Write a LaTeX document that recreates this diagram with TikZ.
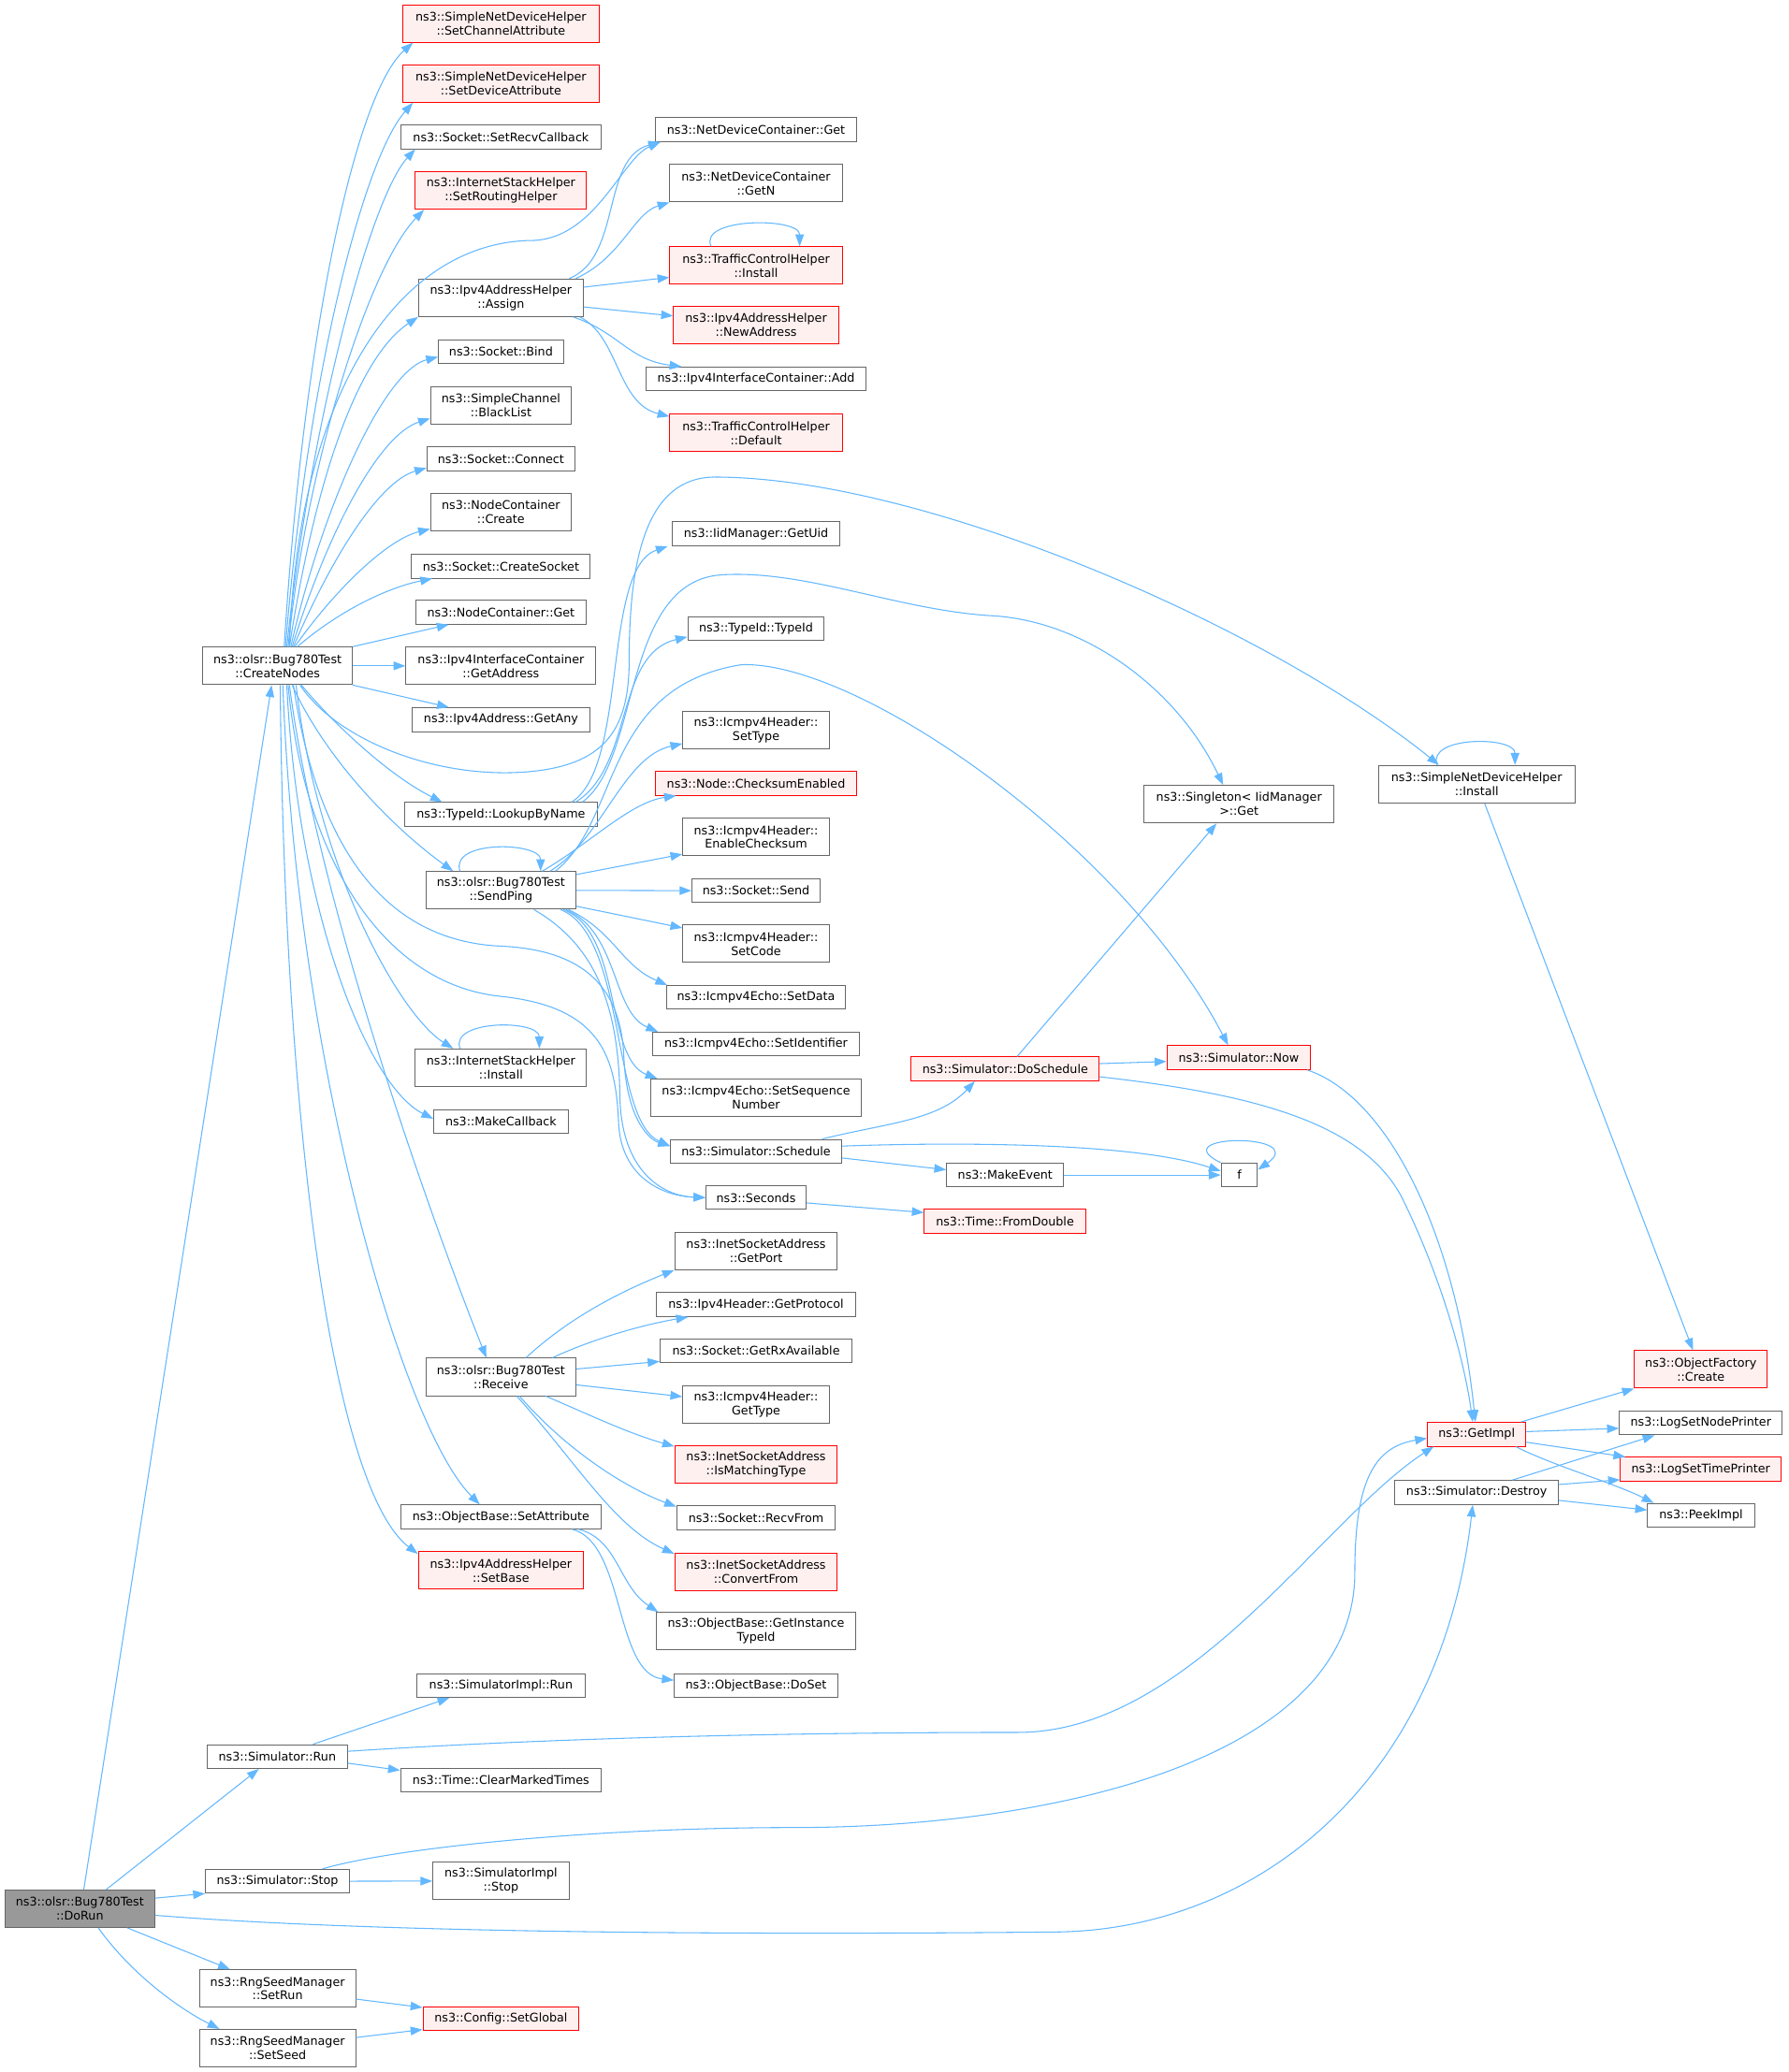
\documentclass[tikz,border=0pt]{standalone}
\usepackage{fontspec}
\setmainfont{DejaVu Sans}
\usepackage{xcolor}
\definecolor{edgeblue}{RGB}{99,184,255}
\definecolor{fnborder}{RGB}{102,102,102}
\definecolor{truncred}{RGB}{255,0,0}
\definecolor{truncfill}{RGB}{255,240,240}
\definecolor{rootgray}{RGB}{153,153,153}
\usepackage{tikz}
\usetikzlibrary{arrows.meta}
\newcommand{\callfont}{\fontsize{9pt}{10.6pt}\selectfont}

\begin{document}
\begin{tikzpicture}[x=1pt, y=-1pt,
  fn/.style={draw=fnborder, line width=0.7pt, fill=white, font=\callfont,
    align=center, inner sep=0pt, minimum height=18pt},
  fn2/.style={fn, minimum height=28.4pt},
  trunc/.style={draw=truncred, fill=truncfill},
  call/.style={-{Triangle[length=9pt,width=6.5pt]}, draw=edgeblue, line width=0.75pt}]

\path[use as bounding box, fill=white] (0,0) rectangle (1353,1568);

% === Left: test entry and its direct callees ===
\node[fn2, fill=rootgray, minimum width=113.2pt] (dorun) at (60.4,1444.4) {ns3::olsr::Bug780Test\\::DoRun};
\node[fn2, minimum width=113.2pt] (createnodes) at (210,503.9) {ns3::olsr::Bug780Test\\::CreateNodes};
\node[fn, minimum width=106pt] (simrun) at (209.8,1329.3) {ns3::Simulator::Run};
\node[fn, minimum width=108.8pt] (simstop) at (209.9,1423.6) {ns3::Simulator::Stop};
\node[fn2, minimum width=118pt] (setrun) at (210,1504.8) {ns3::RngSeedManager\\::SetRun};
\node[fn2, minimum width=118pt] (setseed) at (210,1549.9) {ns3::RngSeedManager\\::SetSeed};

% === Column 3 ===
\node[fn2, trunc, minimum width=148.6pt] (setchan) at (379,17.8) {ns3::SimpleNetDeviceHelper\\::SetChannelAttribute};
\node[fn2, trunc, minimum width=148.6pt] (setdev) at (379,63.2) {ns3::SimpleNetDeviceHelper\\::SetDeviceAttribute};
\node[fn, minimum width=151pt] (setrecv) at (379,103.6) {ns3::Socket::SetRecvCallback};
\node[fn2, trunc, minimum width=129.6pt] (setrouting) at (379,144.2) {ns3::InternetStackHelper\\::SetRoutingHelper};
\node[fn2, minimum width=124.6pt] (assign) at (379,225.3) {ns3::Ipv4AddressHelper\\::Assign};
\node[fn, minimum width=94.5pt] (bind) at (379,266.1) {ns3::Socket::Bind};
\node[fn2, minimum width=106.5pt] (blacklist) at (379,306.7) {ns3::SimpleChannel\\::BlackList};
\node[fn, minimum width=112pt] (connect) at (379,347.1) {ns3::Socket::Connect};
\node[fn2, minimum width=106.5pt] (nccreate) at (379,387.7) {ns3::NodeContainer\\::Create};
\node[fn, minimum width=135.3pt] (createsocket) at (379,428.5) {ns3::Socket::CreateSocket};
\node[fn, minimum width=128.4pt] (ncget) at (379,463.3) {ns3::NodeContainer::Get};
\node[fn2, minimum width=143.8pt] (getaddress) at (379,503.9) {ns3::Ipv4InterfaceContainer\\::GetAddress};
\node[fn, minimum width=134pt] (getany) at (379,544.6) {ns3::Ipv4Address::GetAny};
\node[fn, minimum width=146.3pt] (lookup) at (379,616.3) {ns3::TypeId::LookupByName};
\node[fn2, minimum width=113.6pt] (sendping) at (379,673.8) {ns3::olsr::Bug780Test\\::SendPing};
\node[fn2, minimum width=129.5pt] (ishinstall) at (379,808) {ns3::InternetStackHelper\\::Install};
\node[fn, minimum width=101.8pt] (makecallback) at (379,848.6) {ns3::MakeCallback};
\node[fn2, minimum width=113.5pt] (receive) at (379,1042) {ns3::olsr::Bug780Test\\::Receive};
\node[fn, minimum width=151pt] (setattr) at (379,1147.9) {ns3::ObjectBase::SetAttribute};
\node[fn2, trunc, minimum width=125pt] (setbase) at (379,1188.5) {ns3::Ipv4AddressHelper\\::SetBase};
\node[fn, minimum width=127pt] (simimplrun) at (379,1275.5) {ns3::SimulatorImpl::Run};
\node[fn, minimum width=152pt] (clearmarked) at (379,1347) {ns3::Time::ClearMarkedTimes};
\node[fn2, minimum width=103pt] (simimplstop) at (379,1423.5) {ns3::SimulatorImpl\\::Stop};
\node[fn, trunc, minimum width=118pt] (setglobal) at (379,1527.5) {ns3::Config::SetGlobal};

% === Column 4 ===
\node[fn, minimum width=152pt] (ndcget) at (572,98.1) {ns3::NetDeviceContainer::Get};
\node[fn2, minimum width=130.4pt] (ndcgetn) at (572,138.7) {ns3::NetDeviceContainer\\::GetN};
\node[fn2, trunc, minimum width=130.4pt] (tcinstall) at (572,200.9) {ns3::TrafficControlHelper\\::Install};
\node[fn2, trunc, minimum width=124.8pt] (newaddress) at (572,246.1) {ns3::Ipv4AddressHelper\\::NewAddress};
\node[fn, minimum width=166pt] (ifcadd) at (572,286.8) {ns3::Ipv4InterfaceContainer::Add};
\node[fn2, trunc, minimum width=130.4pt] (tcdefault) at (572,327.7) {ns3::TrafficControlHelper\\::Default};
\node[fn, minimum width=127pt] (getuid) at (572,404) {ns3::IidManager::GetUid};
\node[fn, minimum width=103.2pt] (typeid) at (572,475.6) {ns3::TypeId::TypeId};
\node[fn2, minimum width=110.8pt] (settype) at (572,552.2) {ns3::Icmpv4Header::\\SetType};
\node[fn, trunc, minimum width=152.2pt] (checksum) at (572,592.8) {ns3::Node::ChecksumEnabled};
\node[fn2, minimum width=110.8pt] (enablechk) at (572,633.4) {ns3::Icmpv4Header::\\EnableChecksum};
\node[fn, minimum width=97pt] (send) at (572,674) {ns3::Socket::Send};
\node[fn2, minimum width=110.8pt] (setcode) at (572,714.2) {ns3::Icmpv4Header::\\SetCode};
\node[fn, minimum width=135.7pt] (setdata) at (572,754.8) {ns3::Icmpv4Echo::SetData};
\node[fn, minimum width=155.8pt] (setident) at (572,790.1) {ns3::Icmpv4Echo::SetIdentifier};
\node[fn2, minimum width=158.8pt] (setseq) at (572,830.7) {ns3::Icmpv4Echo::SetSequence\\Number};
\node[fn, minimum width=129.4pt] (schedule) at (572,871.3) {ns3::Simulator::Schedule};
\node[fn, minimum width=75.8pt] (seconds) at (572,906.3) {ns3::Seconds};
\node[fn2, minimum width=123.1pt] (getport) at (572,946.6) {ns3::InetSocketAddress\\::GetPort};
\node[fn, minimum width=150.2pt] (getproto) at (572,987.3) {ns3::Ipv4Header::GetProtocol};
\node[fn, minimum width=145.2pt] (getrx) at (572,1022.3) {ns3::Socket::GetRxAvailable};
\node[fn2, minimum width=110.8pt] (gettype) at (572,1062.9) {ns3::Icmpv4Header::\\GetType};
\node[fn2, trunc, minimum width=123.1pt] (ismatching) at (572,1108.1) {ns3::InetSocketAddress\\::IsMatchingType};
\node[fn, minimum width=120pt] (recvfrom) at (572,1148.5) {ns3::Socket::RecvFrom};
\node[fn2, trunc, minimum width=123.1pt] (convertfrom) at (572,1189.3) {ns3::InetSocketAddress\\::ConvertFrom};
\node[fn2, minimum width=151.4pt] (getinstance) at (572,1234.5) {ns3::ObjectBase::GetInstance\\TypeId};
\node[fn, minimum width=123.6pt] (doset) at (572,1275.5) {ns3::ObjectBase::DoSet};

% === Right columns ===
\node[fn, trunc, minimum width=142.5pt] (doschedule) at (760.5,808.9) {ns3::Simulator::DoSchedule};
\node[fn, minimum width=88.5pt] (makeevent) at (760.5,889.2) {ns3::MakeEvent};
\node[fn, trunc, minimum width=122pt] (fromdouble) at (760.3,924.2) {ns3::Time::FromDouble};
\node[fn2, minimum width=143.8pt] (singleton) at (937.4,608.6) {ns3::Singleton< IidManager\\>::Get};
\node[fn, trunc, minimum width=108.7pt] (now) at (937.2,800.3) {ns3::Simulator::Now};
\node[fn, minimum width=27.4pt] (f) at (937.6,889.2) {f};
\node[fn2, minimum width=148.4pt] (sndhinstall) at (1117.2,593.4) {ns3::SimpleNetDeviceHelper\\::Install};
\node[fn, trunc, minimum width=74.4pt] (getimpl) at (1117.2,1085.4) {ns3::GetImpl};
\node[fn, minimum width=123.6pt] (destroy) at (1117.2,1129.4) {ns3::Simulator::Destroy};
\node[fn2, trunc, minimum width=100.4pt] (ofcreate) at (1286.8,1036.3) {ns3::ObjectFactory\\::Create};
\node[fn, minimum width=123.2pt] (lognode) at (1286.8,1076.9) {ns3::LogSetNodePrinter};
\node[fn, trunc, minimum width=121.5pt] (logtime) at (1286.8,1111.8) {ns3::LogSetTimePrinter};
\node[fn, minimum width=81pt] (peekimpl) at (1287,1146.7) {ns3::PeekImpl};

% === Calls from DoRun ===
\draw[call] ([xshift=3pt]dorun.north) -- ([xshift=-4.5pt]createnodes.south);
\draw[call] ([xshift=20pt]dorun.north) -- ([xshift=-14pt]simrun.south);
\draw[call] ([yshift=8pt]dorun.east) -- (simstop.south west);
\draw[call] ([xshift=36pt]dorun.south) -- ([xshift=-36pt]setrun.north);
\draw[call] ([xshift=14pt]dorun.south) .. controls +(25,35) and +(-30,-15) .. ([xshift=-44pt]setseed.north);
\draw[call] ([yshift=-5pt]dorun.east) .. controls (300,1464) and (600,1464) .. (800,1462)
  .. controls (950,1460) and (1090,1350) .. ([xshift=-3pt]destroy.south);

% === Calls from CreateNodes ===
\draw[call] ([xshift=5pt]createnodes.north) .. controls +(15,-240) and +(-43,38) .. ([xshift=8pt]setchan.south west);
\draw[call] ([xshift=6pt]createnodes.north) .. controls +(16,-200) and +(-38,43) .. ([xshift=8pt]setdev.south west);
\draw[call] ([xshift=7pt]createnodes.north) .. controls +(18,-170) and +(-34,37) .. ([xshift=11pt]setrecv.south west);
\draw[call] ([xshift=8pt]createnodes.north) .. controls +(14,-140) and +(-41,42) .. ([xshift=7pt]setrouting.south west);
\draw[call] ([xshift=9pt]createnodes.north) .. controls (225,300) and (300,185) .. (400,182)
  .. controls (450,183) and (470,120) .. ([xshift=4pt]ndcget.south west);
\draw[call] ([xshift=9pt]createnodes.north) .. controls +(20,-130) and +(-45,30) .. (assign.south west);
\draw[call] ([xshift=10pt]createnodes.north) .. controls +(25,-110) and +(-40,10) .. ([yshift=-4pt]bind.west);
\draw[call] ([xshift=11pt]createnodes.north) .. controls +(28,-90) and +(-38,12) .. ([yshift=-10pt]blacklist.west);
\draw[call] ([xshift=12pt]createnodes.north) .. controls +(30,-70) and +(-35,10) .. ([yshift=-7pt]connect.west);
\draw[call] ([xshift=13pt]createnodes.north) .. controls +(32,-45) and +(-32,8) .. ([yshift=2pt]nccreate.south west);
\draw[call] ([xshift=15pt]createnodes.north) .. controls +(35,-30) and +(-30,6) .. ([xshift=16pt]createsocket.south west);
\draw[call] (createnodes.north east) -- ([xshift=25pt]ncget.south west);
\draw[call] (createnodes.east) -- (getaddress.west);
\draw[call] (createnodes.south east) -- ([xshift=28pt]getany.north west);
\draw[call] ([xshift=18pt]createnodes.south) .. controls +(25,30) and +(-40,-20) .. ([xshift=29pt]lookup.north west);
\draw[call] ([xshift=11pt]createnodes.south) .. controls +(30,65) and +(-35,-25) .. ([xshift=21pt]sendping.north west);
\draw[call] ([xshift=17pt]createnodes.south) .. controls (255,560) and (330,590) .. (400,584)
  .. controls (455,579) and (476,555) .. (476,500)
  .. controls (476,420) and (490,362) .. (540,361)
  .. controls (700,361) and (960,475) .. ([xshift=46pt]sndhinstall.north west);
\draw[call] ([xshift=14pt]createnodes.south) .. controls +(16,140) and +(-40,-25) .. ([xshift=29pt]ishinstall.north west);
\draw[call] ([xshift=7pt]createnodes.south) .. controls +(8,170) and +(-50,-25) .. ([yshift=2pt]makecallback.west);
\draw[call] ([xshift=9pt]createnodes.south) .. controls +(20,160) and +(-40,-100) .. ([xshift=-11pt]receive.north);
\draw[call] ([xshift=4pt]createnodes.south) .. controls +(10,280) and +(-60,-60) .. ([xshift=-16pt]setattr.north);
\draw[call] ([xshift=2pt]createnodes.south) .. controls +(3,330) and +(-65,-50) .. ([yshift=-2pt]setbase.north west);
\draw[call] ([xshift=12pt]createnodes.south) .. controls (240,640) and (290,712) .. (379,716)
  .. controls (445,719) and (470,750) .. (472,800)
  .. controls (474,845) and (490,862) .. ([yshift=4pt]schedule.west);
\draw[call] ([xshift=8pt]createnodes.south) .. controls (230,650) and (290,745) .. (379,754)
  .. controls (455,762) and (466,800) .. (468,850)
  .. controls (470,890) and (500,905) .. (seconds.west);

% === Calls from Assign ===
\draw[call] ([xshift=-11pt]assign.north east) .. controls +(40,-16) and +(-45,12) .. ([xshift=4pt]ndcget.south west);
\draw[call] ([xshift=-6pt]assign.north east) .. controls +(35,-16) and +(-27,8) .. (ndcgetn.south west);
\draw[call] ([yshift=8pt]assign.east) -- ([yshift=-9pt]tcinstall.west);
\draw[call] ([yshift=-7pt]assign.east) -- ([yshift=7pt]newaddress.west);
\draw[call] ([xshift=-8pt]assign.south east) .. controls +(35,12) and +(-40,-5) .. ([xshift=27pt]ifcadd.north west);
\draw[call] ([xshift=-3pt]assign.south east) .. controls +(30,15) and +(-40,-10) .. ([yshift=-2pt]tcdefault.north west);
\draw[call] ([xshift=-34pt]tcinstall.north) .. controls +(-10,-22) and +(0,-22) .. ([xshift=33pt]tcinstall.north);

% === Calls from LookupByName ===
\draw[call] ([xshift=-20pt]lookup.north east) .. controls +(43,-27) and +(-50,17) .. ([xshift=-3pt]getuid.south west);
\draw[call] ([xshift=-17pt]lookup.north east) .. controls +(44,-27) and +(-55,13) .. ([yshift=3pt]typeid.south west);
\draw[call] ([xshift=-12pt]lookup.north east) .. controls (485,575) and (470,440) .. (546,435)
  .. controls (610,431) and (680,462) .. (751,466)
  .. controls (820,470) and (890,520) .. ([xshift=-12pt]singleton.north);

% === Calls from SendPing ===
\draw[call] ([xshift=-31pt]sendping.north) .. controls +(-8,-24) and +(0,-22) .. ([xshift=30pt]sendping.north);
\draw[call] ([xshift=-26pt]sendping.north east) .. controls +(35,-20) and +(-35,5) .. ([xshift=16pt]checksum.south west);
\draw[call] ([xshift=-20pt]sendping.north east) .. controls +(40,-25) and +(-45,10) .. ([yshift=4pt]settype.south west);
\draw[call] ([xshift=-16pt]sendping.north east) .. controls (470,620) and (455,520) .. (561,503)
  .. controls (650,500) and (850,640) .. ([xshift=-8pt]now.north);
\draw[call] ([yshift=12pt]sendping.east) -- ([yshift=-13pt]enablechk.west);
\draw[call] (sendping.east) -- (send.west);
\draw[call] ([yshift=-12pt]sendping.east) -- ([yshift=12pt]setcode.west);
\draw[call] ([xshift=-6pt]sendping.south east) .. controls +(35,17) and +(-35,-15) .. ([xshift=1pt]setdata.north west);
\draw[call] ([xshift=-8pt]sendping.south east) .. controls +(40,17) and +(-35,-15) .. ([xshift=4pt]setident.north west);
\draw[call] ([xshift=-10pt]sendping.south east) .. controls +(45,17) and +(-40,-15) .. ([xshift=5pt]setseq.north west);
\draw[call] ([xshift=-12pt]sendping.south east) .. controls +(50,20) and +(-45,-20) .. ([yshift=4pt]schedule.west);
\draw[call] ([xshift=25pt]sendping.south) .. controls (450,715) and (468,760) .. (469,830)
  .. controls (470,885) and (500,905) .. (seconds.west);

% === Other self calls ===
\draw[call] ([xshift=-31pt]ishinstall.north) .. controls +(-8,-22) and +(0,-22) .. ([xshift=29pt]ishinstall.north);
\draw[call] ([xshift=-30pt]sndhinstall.north) .. controls +(-8,-22) and +(0,-22) .. ([xshift=29pt]sndhinstall.north);
\draw[call] ([xshift=6pt]sndhinstall.south) -- ([xshift=-6pt]ofcreate.north);

% === Calls from Receive ===
\draw[call] ([xshift=19pt]receive.north) .. controls +(30,-28) and +(-45,18) .. (getport.south west);
\draw[call] ([xshift=39pt]receive.north) .. controls +(30,-14) and +(-35,6) .. ([xshift=24pt]getproto.south west);
\draw[call] ([yshift=6pt]receive.east) -- ([yshift=-8pt]getrx.west);
\draw[call] ([yshift=-6pt]receive.east) -- ([yshift=6pt]gettype.west);
\draw[call] ([xshift=34pt]receive.south) .. controls +(35,15) and +(-35,-10) .. ([yshift=-1pt]ismatching.north west);
\draw[call] ([xshift=14pt]receive.south) .. controls +(35,40) and +(-40,-15) .. ([yshift=-1pt]recvfrom.north west);
\draw[call] ([xshift=12pt]receive.south) .. controls +(45,50) and +(-45,-20) .. ([yshift=-1pt]convertfrom.north west);

% === Calls from SetAttribute ===
\draw[call] ([xshift=-17pt]setattr.south east) .. controls +(30,8) and +(-30,-20) .. ([xshift=2pt]getinstance.north west);
\draw[call] ([xshift=-22pt]setattr.south east) .. controls +(40,10) and +(-45,-5) .. ([yshift=4pt]doset.west);

% === Scheduling ===
\draw[call] ([xshift=50pt]schedule.north) .. controls +(48,-12) and +(-28,30) .. ([xshift=-23pt]doschedule.south);
\draw[call] ([yshift=4pt]schedule.east) .. controls (730,864) and (860,865) .. ([yshift=3pt]f.west);
\draw[call] ([yshift=-5pt]schedule.east) -- ([yshift=4pt]makeevent.west);
\draw[call] (makeevent.east) -- (f.west);
\draw[call] (f.north west) .. controls +(-45,-22) and +(40,-28) .. ([yshift=4pt]f.east);
\draw[call] ([yshift=-4pt]seconds.east) -- ([yshift=6.6pt]fromdouble.west);
\draw[call] ([xshift=9pt]doschedule.north) -- ([xshift=-17pt]singleton.south);
\draw[call] ([yshift=4pt]doschedule.east) -- ([yshift=-3pt]now.west);
\draw[call] ([yshift=-6pt]doschedule.east) .. controls (950,828) and (1030,850) .. (1060,905)
  .. controls (1090,965) and (1108,1030) .. ([xshift=-3pt]getimpl.north);
\draw[call] ([xshift=-3pt]now.south east) .. controls +(60,20) and +(-15,-145) .. ([xshift=-1pt]getimpl.north);

% === Simulator Run / Stop ===
\draw[call] ([xshift=27pt]simrun.north) -- ([xshift=-39pt]simimplrun.south);
\draw[call] ([yshift=-5pt]simrun.east) -- ([yshift=-2pt]clearmarked.north west);
\draw[call] ([yshift=4pt]simrun.east) .. controls (450,1313) and (650,1311) .. (770,1311)
  .. controls (900,1311) and (1000,1150) .. ([xshift=5pt]getimpl.south west);
\draw[call] (simstop.east) -- (simimplstop.west);
\draw[call] ([xshift=34pt]simstop.north) .. controls (300,1398) and (450,1383) .. (600,1383)
  .. controls (800,1383) and (1025,1330) .. (1025,1190)
  .. controls (1025,1120) and (1040,1095) .. ([yshift=-3pt]getimpl.west);
\draw[call] ([yshift=-8pt]setrun.east) -- ([yshift=-1pt]setglobal.north west);
\draw[call] ([yshift=8pt]setseed.east) -- ([yshift=1pt]setglobal.south west);

% === GetImpl and Destroy ===
\draw[call] ([xshift=-4pt]getimpl.north east) -- (ofcreate.south west);
\draw[call] ([yshift=2pt]getimpl.east) -- ([yshift=-4pt]lognode.west);
\draw[call] ([yshift=-6pt]getimpl.east) -- ([xshift=4pt]logtime.north west);
\draw[call] ([xshift=-8pt]getimpl.south east) .. controls +(30,15) and +(-30,-15) .. ([xshift=5pt]peekimpl.north west);
\draw[call] ([xshift=27pt]destroy.north) -- ([xshift=-35pt]lognode.south);
\draw[call] ([yshift=6pt]destroy.east) -- ([yshift=-8pt]logtime.west);
\draw[call] ([yshift=-6pt]destroy.east) -- ([yshift=4pt]peekimpl.west);

\end{tikzpicture}
\end{document}
